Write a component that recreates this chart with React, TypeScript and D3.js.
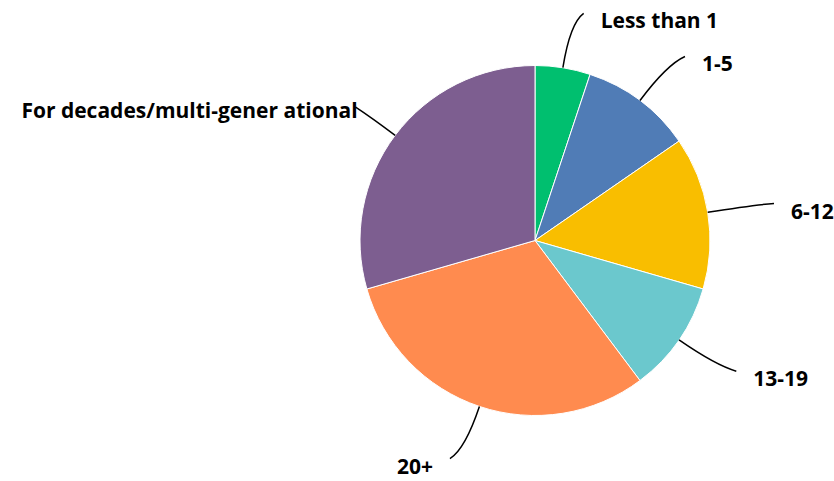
import * as d3 from 'd3';
import { useEffect, useRef } from 'react';

// Answer choices and their share of responses (%)
const categories = [
  'Less than 1',
  '1-5',
  '6-12',
  '13-19',
  '20+',
  'For decades/multi-gener ational',
];
const values = [5.1, 10.3, 14.1, 10.3, 30.8, 29.5];
const colors = ['#00BF6F', '#507CB6', '#F9BE00', '#6BC8CD', '#FF8B4F', '#7D5E90'];

const App: React.FC = () => {
  const ref = useRef<null | SVGSVGElement>(null);

  useEffect(() => {
    const width = 834;
    const height = 481;
    const cx = 535;
    const cy = 240.5;
    const radius = 175;

    const data = categories.map((name, i) => ({ name, value: values[i], color: colors[i] }));

    const pie = d3
      .pie<any>()
      .sort(null)
      .value((d: any) => d.value);

    const arc: any = d3.arc().innerRadius(0).outerRadius(radius);
    const arcs = pie(data);

    const svg = d3
      .select(ref.current)
      .attr('width', width)
      .attr('height', height)
      .attr('style', "position:absolute;left:0;top:0;font-family:'Open Sans', sans-serif;");

    svg.selectAll('*').remove();

    const g = svg.append('g').attr('transform', `translate(${cx},${cy})`);

    // slices
    g.selectAll('path.slice')
      .data(arcs)
      .join('path')
      .attr('class', 'slice')
      .attr('fill', (d: any) => d.data.color)
      .attr('stroke', '#fff')
      .attr('stroke-width', 1)
      .attr('d', arc);

    // polar helper (angle 0 at 12 o'clock, clockwise)
    const polar = (a: number, r: number) => [Math.sin(a) * r, -Math.cos(a) * r];

    // leader lines: curved from the slice edge out to the label
    arcs.forEach((d: any, i: number) => {
      const mid = (d.startAngle + d.endAngle) / 2;
      const right = Math.sin(mid) >= 0;
      const sign = right ? 1 : -1;
      const long = i === arcs.length - 1; // the long left label sits right on its line
      const [x0, y0] = polar(mid, radius);
      const [x1, y1] = polar(mid, long ? 205 : 220);
      const [ex, ey] = polar(mid, long ? 222 : 230);
      const x2 = ex + sign * (long ? 2 : 12);
      const y2 = ey;

      const path = d3.path();
      path.moveTo(x0, y0);
      path.quadraticCurveTo(x1, y1, x2, y2);

      g.append('path')
        .attr('d', path.toString())
        .attr('fill', 'none')
        .attr('stroke', '#000')
        .attr('stroke-width', 1.5);

      g.append('text')
        .attr('x', x2 + sign * (long ? -2 : 17))
        .attr('y', y2 + (long ? 3 : 7))
        .attr('text-anchor', right ? 'start' : 'end')
        .attr('dominant-baseline', 'central')
        .attr('font-size', 21)
        .attr('font-weight', 700)
        .attr('fill', '#000')
        .text(d.data.name);
    });
  }, []);

  return <svg ref={ref} />;
};

export default App;
